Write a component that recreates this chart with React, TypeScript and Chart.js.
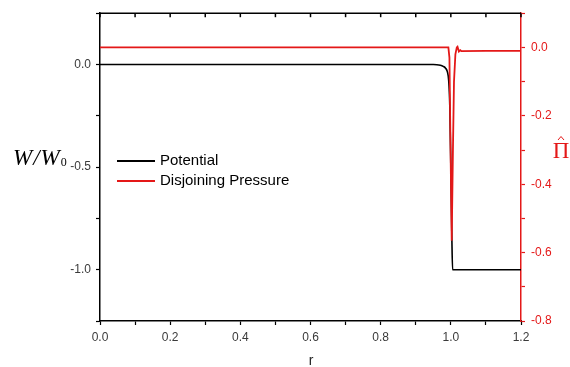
import React, { useEffect, useRef } from "react";
import { Chart, registerables } from "chart.js";

Chart.register(...registerables);

// Potential W/W0 vs r
const potR = [0, 0.2, 0.4, 0.6, 0.8, 0.9, 0.95, 0.96, 0.97, 0.978, 0.985, 0.99, 0.994, 0.997, 1.0, 1.003, 1.005, 1.05, 1.1, 1.2];
const potW = [0, 0, 0, 0, 0, 0, 0, -0.001, -0.004, -0.009, -0.018, -0.035, -0.08, -0.2, -0.5, -0.85, -1.0, -1.0, -1.0, -1.0];

// Disjoining pressure vs r
const presR = [0, 0.2, 0.4, 0.6, 0.8, 0.9, 0.993, 0.996, 0.998, 1.0025, 1.006, 1.009, 1.013, 1.017, 1.019, 1.023, 1.027, 1.03, 1.1, 1.2];
const presP = [0, 0, 0, 0, 0, 0, 0, -0.03, -0.2, -0.565, -0.3, -0.1, -0.02, 0.0, 0.002, -0.012, -0.008, -0.011, -0.01, -0.01];

const seriesNames = ["Potential", "Disjoining Pressure"];
const RED = "rgb(228,24,24)";
const TICK_FONT = { family: '"Liberation Sans", Arial, sans-serif', size: 12 };

export default function App() {
  const ref = useRef<HTMLCanvasElement | null>(null);

  useEffect(() => {
    if (!ref.current) return;
    document.body.style.margin = "0";

    const overlay = {
      id: "overlay",
      afterDraw(chart: any) {
        const ctx = chart.ctx;
        const { left, right, top } = chart.chartArea;
        const xs = chart.scales.x;
        ctx.save();
        // top border with inward ticks
        ctx.strokeStyle = "#000";
        ctx.lineWidth = 1.5;
        ctx.beginPath();
        ctx.moveTo(left, top);
        ctx.lineTo(right, top);
        ctx.stroke();
        xs.ticks.forEach((t: any) => {
          const px = xs.getPixelForValue(t.value);
          ctx.beginPath();
          ctx.moveTo(px, top);
          ctx.lineTo(px, top + 4);
          ctx.stroke();
        });
        // legend
        ctx.lineWidth = 1.8;
        ctx.strokeStyle = "#000";
        ctx.beginPath();
        ctx.moveTo(117, 161);
        ctx.lineTo(155, 161);
        ctx.stroke();
        ctx.strokeStyle = RED;
        ctx.beginPath();
        ctx.moveTo(117, 181);
        ctx.lineTo(155, 181);
        ctx.stroke();
        ctx.fillStyle = "#000";
        ctx.font = '15px "Liberation Sans", Arial, sans-serif';
        ctx.textBaseline = "middle";
        ctx.textAlign = "left";
        ctx.fillText(seriesNames[0], 160, 161);
        ctx.fillText(seriesNames[1], 160, 181);
        // left axis title W/W0
        ctx.textBaseline = "alphabetic";
        ctx.font = 'italic 23px "Liberation Serif", serif';
        let x = 13;
        ctx.fillText("W", x, 165);
        x += ctx.measureText("W").width + 1;
        ctx.fillText("/", x, 165);
        x += ctx.measureText("/").width + 1;
        ctx.fillText("W", x, 165);
        x += ctx.measureText("W").width + 1;
        ctx.font = '12px "Liberation Serif", serif';
        ctx.fillText("0", x, 166);
        // right axis title Pi hat
        ctx.fillStyle = RED;
        ctx.strokeStyle = RED;
        ctx.font = '23px "Liberation Serif", serif';
        ctx.textAlign = "center";
        ctx.fillText("\u03A0", 561, 158);
        ctx.lineWidth = 1;
        ctx.beginPath();
        ctx.moveTo(558, 140);
        ctx.lineTo(561, 136.5);
        ctx.lineTo(564, 140);
        ctx.stroke();
        // x title
        ctx.fillStyle = "#222";
        ctx.font = '14px "Liberation Sans", Arial, sans-serif';
        ctx.fillText("r", 311, 365);
        ctx.restore();
      },
    };

    const chart = new Chart(ref.current, {
      type: "scatter",
      data: {
        datasets: [
          {
            label: seriesNames[1],
            data: presR.map((r, i) => ({ x: r, y: presP[i] })),
            yAxisID: "y1",
            showLine: true,
            borderColor: RED,
            borderWidth: 1.8,
            pointRadius: 0,
            tension: 0,
            order: 0,
          },
          {
            label: seriesNames[0],
            data: potR.map((r, i) => ({ x: r, y: potW[i] })),
            yAxisID: "y",
            showLine: true,
            borderColor: "#000",
            borderWidth: 1.6,
            pointRadius: 0,
            cubicInterpolationMode: "monotone",
            order: 1,
          },
        ],
      },
      options: {
        responsive: false,
        animation: false,
        devicePixelRatio: 1,
        layout: { padding: { top: 13, left: 0, right: 0, bottom: 0 } },
        plugins: { legend: { display: false }, tooltip: { enabled: false } },
        scales: {
          x: {
            type: "linear",
            position: "bottom",
            min: 0,
            max: 1.2,
            afterFit: (s: any) => {
              s.height = 46;
            },
            ticks: {
              stepSize: 0.1,
              autoSkip: false,
              maxRotation: 0,
              padding: 5,
              color: "#3a3a3a",
              font: TICK_FONT,
              callback: (v: any) => {
                const k = Math.round(Number(v) * 10);
                return k % 2 !== 0 ? "" : (k / 10).toFixed(1);
              },
            },
            grid: { drawOnChartArea: false, tickLength: 4, tickColor: "#000", tickWidth: 1.2 },
            border: { display: true, color: "#000", width: 1.5 },
          },
          y: {
            type: "linear",
            position: "left",
            min: -1.25,
            max: 0.25,
            afterFit: (s: any) => {
              s.width = 100;
            },
            ticks: {
              stepSize: 0.25,
              autoSkip: false,
              padding: 5,
              color: "#3a3a3a",
              font: TICK_FONT,
              callback: (v: any) => {
                const k = Math.round(Number(v) * 4);
                return k % 2 !== 0 ? "" : (k / 4).toFixed(1);
              },
            },
            grid: { drawOnChartArea: false, tickLength: 4, tickColor: "#000", tickWidth: 1.2 },
            border: { display: true, color: "#000", width: 1.5 },
          },
          y1: {
            type: "linear",
            position: "right",
            min: -0.8,
            max: 0.1,
            afterFit: (s: any) => {
              s.width = 49;
            },
            ticks: {
              stepSize: 0.1,
              autoSkip: false,
              padding: 6,
              color: RED,
              font: TICK_FONT,
              callback: (v: any) => {
                const k = Math.round(Number(v) * 10);
                return k % 2 !== 0 ? "" : (k / 10).toFixed(1);
              },
            },
            grid: { drawOnChartArea: false, tickLength: 4, tickColor: RED, tickWidth: 1.2 },
            border: { display: true, color: RED, width: 1.5 },
          },
        },
      },
      plugins: [overlay],
    } as any);

    return () => chart.destroy();
  }, []);

  return (
    <div style={{ position: "absolute", left: 0, top: 0, width: 570, height: 367, background: "#fff" }}>
      <canvas ref={ref} width={570} height={367} />
    </div>
  );
}
